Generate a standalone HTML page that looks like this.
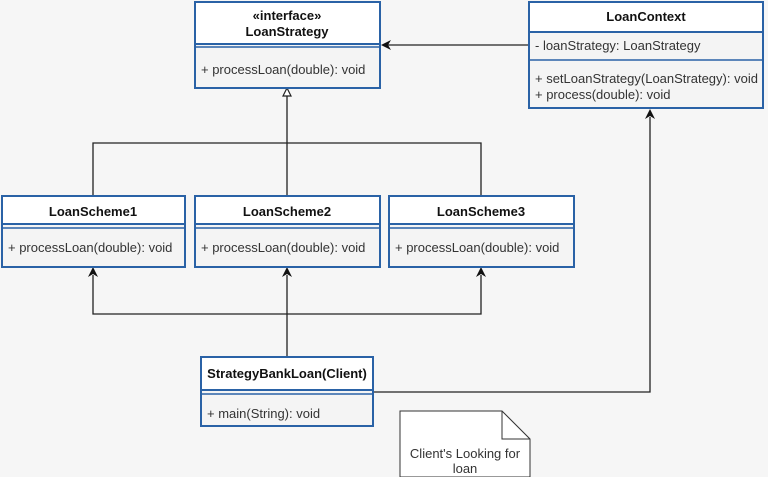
<!DOCTYPE html>
<html><head><meta charset="utf-8"><style>
html,body{margin:0;padding:0;background:#f6f6f6;}
svg{display:block;font-family:"Liberation Sans",sans-serif;}
.b{font-weight:bold;font-size:13px;fill:#111;}
.t{font-size:13px;fill:#333;}
</style></head><body>
<svg width="768" height="477" viewBox="0 0 768 477" xmlns="http://www.w3.org/2000/svg">
<rect width="768" height="477" fill="#f6f6f6"/>
<g stroke="#222" stroke-width="1.3" fill="none">
<polyline points="93,196 93,143 481,143 481,196"/>
<line x1="287" y1="196" x2="287" y2="96"/>
<line x1="529" y1="45" x2="388" y2="45"/>
<line x1="287" y1="357" x2="287" y2="275"/>
<polyline points="93,275 93,314 481,314 481,275"/>
<polyline points="373,392 650,392 650,117"/>
</g>
<polygon points="287,88 283,96 291,96" fill="#fff" stroke="#222" stroke-width="1.2"/>
<g fill="#111">
<polygon points="381,45 391,40 388,45 391,50"/>
<polygon points="93,267 88,277 93,274 98,277"/>
<polygon points="287,267 282,277 287,274 292,277"/>
<polygon points="481,267 476,277 481,274 486,277"/>
<polygon points="650,109 645,119 650,116 655,119"/>
</g>
<g stroke="#2a62a6" stroke-width="2">
<rect x="195" y="2" width="185" height="86" fill="#f4f4f4"/>
<rect x="195" y="2" width="185" height="42" fill="#fff"/>
<line x1="195" y1="47" x2="380" y2="47" stroke-width="1.5"/>
<rect x="529" y="2" width="234" height="106" fill="#f4f4f4"/>
<rect x="529" y="2" width="234" height="30" fill="#fff"/>
<line x1="529" y1="60" x2="763" y2="60" stroke-width="1.5"/>
<rect x="2" y="196" width="183" height="71" fill="#f4f4f4"/>
<rect x="2" y="196" width="183" height="28" fill="#fff"/>
<line x1="2" y1="228" x2="185" y2="228" stroke-width="1.5"/>
<rect x="195" y="196" width="185" height="71" fill="#f4f4f4"/>
<rect x="195" y="196" width="185" height="28" fill="#fff"/>
<line x1="195" y1="228" x2="380" y2="228" stroke-width="1.5"/>
<rect x="389" y="196" width="185" height="71" fill="#f4f4f4"/>
<rect x="389" y="196" width="185" height="28" fill="#fff"/>
<line x1="389" y1="228" x2="574" y2="228" stroke-width="1.5"/>
<rect x="201" y="357" width="172" height="69" fill="#f4f4f4"/>
<rect x="201" y="357" width="172" height="33" fill="#fff"/>
<line x1="201" y1="394" x2="373" y2="394" stroke-width="1.5"/>
</g>
<path d="M400,411 H502 L530,439 V477 H400 Z" fill="#fff" stroke="#333" stroke-width="1"/>
<path d="M502,411 V439 H530" fill="none" stroke="#333" stroke-width="1"/>
<text x="465" y="458" text-anchor="middle" class="t">Client's Looking for</text>
<text x="465" y="473" text-anchor="middle" class="t">loan</text>

<text x="287" y="20" text-anchor="middle" class="b">«interface»</text>
<text x="287" y="36" text-anchor="middle" class="b">LoanStrategy</text>
<text x="201" y="74" class="t">+ processLoan(double): void</text>

<text x="646" y="21" text-anchor="middle" class="b">LoanContext</text>
<text x="535" y="50" class="t">- loanStrategy: LoanStrategy</text>
<text x="535" y="83" class="t">+ setLoanStrategy(LoanStrategy): void</text>
<text x="535" y="99" class="t">+ process(double): void</text>

<text x="93" y="216" text-anchor="middle" class="b">LoanScheme1</text>
<text x="8" y="252" class="t">+ processLoan(double): void</text>
<text x="287" y="216" text-anchor="middle" class="b">LoanScheme2</text>
<text x="201" y="252" class="t">+ processLoan(double): void</text>
<text x="481" y="216" text-anchor="middle" class="b">LoanScheme3</text>
<text x="395" y="252" class="t">+ processLoan(double): void</text>

<text x="287" y="378" text-anchor="middle" class="b">StrategyBankLoan(Client)</text>
<text x="207" y="418" class="t">+ main(String): void</text>
</svg>
</body></html>
